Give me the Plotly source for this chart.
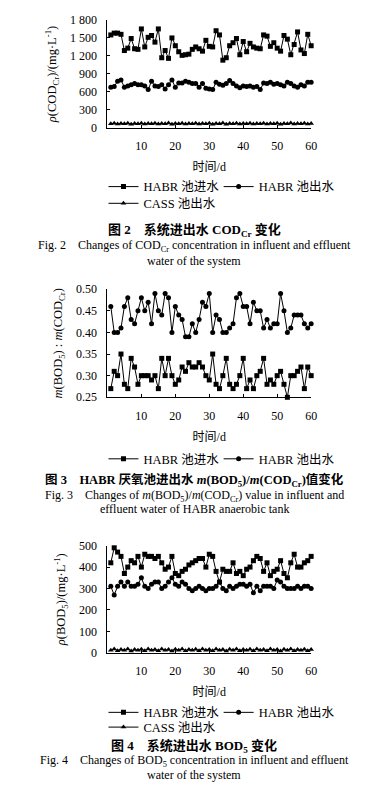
import plotly.graph_objects as go

days = list(range(1, 61))

# Fig. 2 COD (mg/L)
cod_in = [1550,1580,1580,1560,1290,1330,1490,1320,1310,1650,
          1350,1510,1540,1430,1650,1170,1290,1160,1500,1370,
          1270,1210,1220,1230,1310,1350,1320,1280,1460,1360,
          1350,1620,1550,1130,1170,1370,1420,1490,1220,1440,
          1270,1410,1350,1330,1320,1550,1530,1360,1420,1330,
          1280,1540,1480,1220,1390,1600,1300,1240,1560,1370]
cod_out = [680,690,780,800,680,700,720,740,720,720,
           700,640,780,700,690,720,650,720,800,680,
           750,750,780,760,740,740,680,740,660,650,
           640,760,730,710,740,790,740,700,670,700,
           690,700,680,690,640,750,740,760,730,740,
           720,700,760,740,700,680,720,700,760,760]
cod_cass = [70,80,65,75,70,80,62,75,70,80,65,76,70,80,66,75,70,82,62,75,
            70,80,65,75,72,80,65,75,70,80,64,75,70,82,62,75,70,80,65,76,
            70,80,66,75,72,80,65,75,70,80,62,75,70,82,65,75,70,80,66,75]

# Fig. 3 BOD5/COD ratio
ratio_in = [.27,.31,.30,.35,.28,.27,.34,.32,.28,.30,
            .30,.30,.29,.30,.27,.34,.30,.34,.30,.28,
            .29,.32,.31,.33,.32,.32,.33,.32,.30,.29,
            .35,.28,.27,.30,.34,.28,.27,.28,.30,.34,
            .27,.29,.27,.30,.31,.34,.28,.29,.28,.30,
            .31,.28,.25,.30,.30,.31,.32,.27,.32,.30]
ratio_out = [.46,.40,.40,.41,.46,.48,.43,.42,.45,.48,
             .45,.47,.42,.49,.45,.44,.49,.48,.40,.46,
             .44,.43,.39,.39,.42,.40,.43,.47,.46,.49,
             .40,.44,.43,.40,.40,.41,.42,.48,.49,.46,
             .46,.42,.47,.45,.45,.41,.43,.41,.42,.42,
             .49,.45,.40,.41,.44,.44,.44,.42,.41,.42]

# Fig. 4 BOD5 (mg/L)
bod_in = [420,490,470,450,370,400,430,420,450,400,
          460,450,450,440,450,420,390,400,450,370,
          360,380,390,410,420,430,440,440,400,460,
          450,380,330,390,380,380,420,370,380,360,
          390,400,430,450,440,380,420,360,380,390,
          430,370,350,420,460,400,400,420,430,450]
bod_out = [310,270,310,330,310,330,310,310,320,350,
           310,300,320,330,330,300,310,330,350,320,
           310,330,320,300,290,300,310,300,290,300,
           300,310,330,300,290,310,300,310,320,320,
           310,320,280,310,290,310,310,310,300,340,
           330,310,300,300,300,310,300,310,310,300]
bod_cass = [12,18,10,15,12,18,8,15,12,16,10,18,12,15,10,18,12,15,8,16,
            12,18,10,15,12,16,10,18,12,15,10,18,12,15,8,16,12,18,10,15,
            12,16,10,18,12,15,10,18,12,15,8,16,12,18,10,15,12,16,10,15]

xticks = [10, 20, 30, 40, 50, 60]
cod_ticks = [0, 300, 600, 900, 1200, 1500, 1800]
cod_ticktext = ["0", "300", "600", "900", "1 200", "1 500", "1 800"]
ratio_ticks = [0.25, 0.30, 0.35, 0.40, 0.45, 0.50]
ratio_ticktext = ["0.25", "0.30", "0.35", "0.40", "0.45", "0.50"]
bod_ticks = [0, 100, 200, 300, 400, 500]

N_IN = "HABR 池进水"
N_OUT = "HABR 池出水"
N_CASS = "CASS 池出水"

FONT = "Liberation Serif, 'Times New Roman', 'Noto Sans CJK SC', serif"
H = 810.0
W = 381.0
OFF = 8  # page body margin

def py(p):
    return (H - (p - OFF)) / H

def px(p):
    return (p - OFF) / W

fig = go.Figure()

def add(x, y, name, sym, xa, ya, leg, size=5):
    fig.add_trace(go.Scatter(
        x=x, y=y, name=name, mode="lines+markers",
        line=dict(color="black", width=1),
        marker=dict(symbol=sym, size=size, color="black"),
        xaxis=xa, yaxis=ya, legend=leg, cliponaxis=False, showlegend=True))

add(days, cod_in, N_IN, "square", "x", "y", "legend")
add(days, cod_out, N_OUT, "circle", "x", "y", "legend2")
add(days, cod_cass, N_CASS, "triangle-up", "x", "y", "legend3")

add(days, ratio_in, N_IN, "square", "x2", "y2", "legend4")
add(days, ratio_out, N_OUT, "circle", "x2", "y2", "legend5")

add(days, bod_in, N_IN, "square", "x3", "y3", "legend6")
add(days, bod_out, N_OUT, "circle", "x3", "y3", "legend7")
add(days, bod_cass, N_CASS, "triangle-up", "x3", "y3", "legend8")

xdom = [px(109), px(316)]
axfont = dict(family=FONT, size=12, color="black")

def xaxis(anchor):
    return dict(domain=xdom, range=[0, 60], tickvals=xticks, showline=True,
                linecolor="black", linewidth=1, ticks="inside", ticklen=3,
                tickcolor="black", showgrid=False, zeroline=False,
                tickfont=axfont, anchor=anchor, ticklabelstandoff=7,
                title=dict(text="时间/d", font=dict(family=FONT, size=12), standoff=10))

def yaxis(anchor, dom, rng, tv, tt, title):
    return dict(domain=dom, range=rng, tickvals=tv, ticktext=tt, showline=True,
                linecolor="black", linewidth=1, ticks="inside", ticklen=3,
                tickcolor="black", showgrid=False, zeroline=False,
                tickfont=axfont, anchor=anchor, ticklabelstandoff=7,
                title=dict(text=title, font=dict(family=FONT, size=12.5), standoff=10))

fig.update_layout(
    width=381, height=810,
    margin=dict(l=0, r=0, t=0, b=0),
    paper_bgcolor="white", plot_bgcolor="white",
    showlegend=True,
    font=dict(family=FONT, size=12, color="black"),
    xaxis=xaxis("y"),
    yaxis=yaxis("x", [py(123), py(13)], [0, 1800], cod_ticks, cod_ticktext,
                "<i>ρ</i>(COD<sub>Cr</sub>)/(mg·L<sup>-1</sup>)"),
    xaxis2=xaxis("y2"),
    yaxis2=yaxis("x2", [py(397), py(287)], [0.25, 0.50], ratio_ticks, ratio_ticktext,
                 "<i>m</i>(BOD<sub>5</sub>) : <i>m</i>(COD<sub>Cr</sub>)"),
    xaxis3=xaxis("y3"),
    yaxis3=yaxis("x3", [py(657), py(548)], [0, 500], bod_ticks, [str(v) for v in bod_ticks],
                 "<i>ρ</i>(BOD<sub>5</sub>)/(mg·L<sup>-1</sup>)"),
)

def leg(xp, yc):
    return dict(orientation="h", xanchor="left", yanchor="middle",
                x=px(xp), y=py(yc), font=dict(family=FONT, size=12.5),
                itemwidth=30, bgcolor="rgba(0,0,0,0)", borderwidth=0, visible=True)

L1, L2 = 105, 222
fig.update_layout(
    legend=leg(L1, 183), legend2=leg(L2, 183), legend3=leg(L1, 200),
    legend4=leg(L1, 460), legend5=leg(L2, 460),
    legend6=leg(L1, 718), legend7=leg(L2, 718), legend8=leg(L1, 733),
)

caps = [
    (227, "<b>图 2    系统进出水 COD<sub>Cr</sub> 变化</b>", 13),
    (243, "Fig. 2    Changes of COD<sub>Cr</sub> concentration in influent and effluent", 12),
    (258, "water of the system", 12),
    (482, "<b>图 3    HABR 厌氧池进出水 <i>m</i>(BOD<sub>5</sub>)/<i>m</i>(COD<sub>Cr</sub>)值变化</b>", 12.5),
    (497, "Fig. 3    Changes of <i>m</i>(BOD<sub>5</sub>)/<i>m</i>(COD<sub>Cr</sub>) value in influent and", 12),
    (511, "effluent water of HABR anaerobic tank", 12),
    (752, "<b>图 4    系统进出水 BOD<sub>5</sub> 变化</b>", 13),
    (767, "Fig. 4    Changes of BOD<sub>5</sub> concentration in influent and effluent", 12),
    (781, "water of the system", 12),
]
for yy, txt, sz in caps:
    fig.add_annotation(x=px(197), y=py(yy), xref="paper", yref="paper", text=txt,
                       showarrow=False, xanchor="center", yanchor="middle",
                       font=dict(family=FONT, size=sz, color="black"))

fig.write_html("out.html")
